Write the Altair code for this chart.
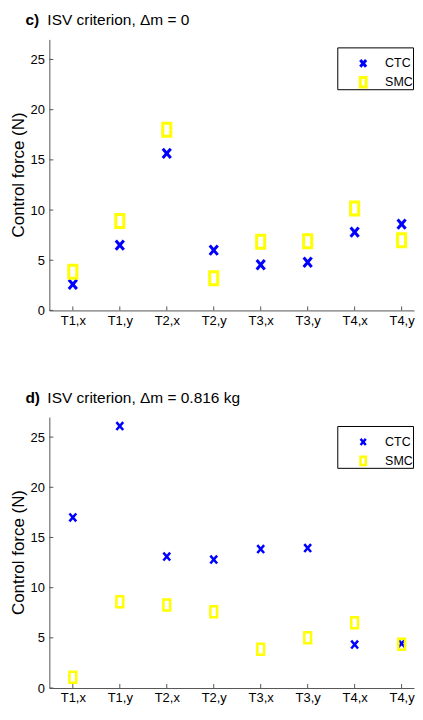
import altair as alt
import pandas as pd

categories = ["T1,x", "T1,y", "T2,x", "T2,y", "T3,x", "T3,y", "T4,x", "T4,y"]
series_names = ["CTC", "SMC"]
series_colors = ["#0000ff", "#ffff00"]
c_ctc = [2.6, 6.5, 15.65, 6.0, 4.55, 4.8, 7.8, 8.6]
c_smc = [3.85, 8.9, 18.0, 3.2, 6.85, 6.9, 10.15, 7.0]
d_ctc = [17.0, 26.1, 13.1, 12.8, 13.85, 13.95, 4.33, 4.43]
d_smc = [1.08, 8.6, 8.27, 7.6, 3.87, 5.0, 6.5, 4.36]
y_ticks = [0, 5, 10, 15, 20, 25]

FONT = "Liberation Sans, Arial, sans-serif"
W, H = 366, 272
X_PATH = "M-0.62,-0.72L0.62,0.72M0.62,-0.72L-0.62,0.72"
SQ_PATH = "M-0.62,-1L0.62,-1L0.62,1L-0.62,1Z"
shapes = [X_PATH, SQ_PATH]

label_expr = "[" + ",".join("'%s'" % c for c in categories) + "][datum.value - 1]"
positions = list(range(1, len(categories) + 1))


def make_panel(ctc, smc, tag, rest, msize, mstroke, lsize, lstroke, ltop):
    rows = []
    for name, vals in zip(series_names, [ctc, smc]):
        for i, v in enumerate(vals):
            rows.append({"pos": i + 1, "cat": categories[i], "series": name, "value": v})
    df = pd.DataFrame(rows)

    x_enc = alt.X("pos:Q", scale=alt.Scale(domain=[0.5, 8.264], nice=False, zero=False),
                  axis=alt.Axis(values=positions, labelExpr=label_expr, title=None,
                                labelPadding=4, labelFlush=False))
    y_enc = alt.Y("value:Q", scale=alt.Scale(domain=[0, 27], nice=False, zero=False),
                  axis=alt.Axis(values=y_ticks, title=None, labelPadding=5))
    points = alt.Chart(df).mark_point(filled=False, strokeWidth=mstroke, size=msize, opacity=1).encode(
        x=x_enc, y=y_enc,
        color=alt.Color("series:N", scale=alt.Scale(domain=series_names, range=series_colors), legend=None),
        shape=alt.Shape("series:N", scale=alt.Scale(domain=series_names, range=shapes), legend=None),
    )
    xt = alt.Chart(pd.DataFrame({"pos": positions})).mark_rule(color="#555", strokeWidth=1).encode(
        x=x_enc, y=alt.value(H), y2=alt.value(H - 4))
    yt = alt.Chart(pd.DataFrame({"value": y_ticks})).mark_rule(color="#555", strokeWidth=1).encode(
        y=y_enc, x=alt.value(0), x2=alt.value(4))
    one = pd.DataFrame({"t": [0]})
    t1 = alt.Chart(one).mark_text(font=FONT, fontSize=15.5, fontWeight="bold", align="left",
                                  baseline="middle", color="black").encode(
        x=alt.value(-24), y=alt.value(-19), text=alt.value(tag))
    t2 = alt.Chart(one).mark_text(font=FONT, fontSize=15.5, align="left",
                                  baseline="middle", color="black").encode(
        x=alt.value(-2), y=alt.value(-19), text=alt.value(rest))
    ytitle = alt.Chart(one).mark_text(font=FONT, fontSize=17, angle=270, align="center",
                                      baseline="middle", color="black").encode(
        x=alt.value(-30), y=alt.value(H / 2), text=alt.value("Control force (N)"))

    # legend box
    lx0 = 289.5
    box = alt.Chart(one).mark_rect(fill="white", stroke="black", strokeWidth=1).encode(
        x=alt.value(lx0), x2=alt.value(lx0 + 76), y=alt.value(ltop + 0.5), y2=alt.value(ltop + 42.5))
    leg_layers = [box]
    for k, name in enumerate(series_names):
        ly = ltop + 16 + 19 * k
        leg_layers.append(
            alt.Chart(pd.DataFrame({"series": [name]})).mark_point(
                shape=shapes[k], color=series_colors[k], filled=False, size=lsize,
                strokeWidth=lstroke, opacity=1).encode(x=alt.value(lx0 + 25.5), y=alt.value(ly)))
        leg_layers.append(
            alt.Chart(pd.DataFrame({"series": [name]})).mark_text(
                font=FONT, fontSize=12.5, align="left", baseline="middle", color="black").encode(
                x=alt.value(lx0 + 47.5), y=alt.value(ly), text="series:N"))
    return alt.layer(xt, yt, points, t1, t2, ytitle, *leg_layers).properties(width=W, height=H)


c = make_panel(c_ctc, c_smc, "c)", "ISV criterion, \u0394m = 0", 169, 3, 90, 3, 8)
d = make_panel(d_ctc, d_smc, "d)", "ISV criterion, \u0394m = 0.816 kg", 121, 2.5, 72, 2.5, 9)

chart = alt.vconcat(c, d, spacing=107, bounds="flush").properties(
    padding={"left": 2.5, "top": 4.25, "right": 0, "bottom": -1.5}
).configure_view(stroke=None).configure_axis(
    domainColor="#555", domainWidth=1, ticks=False, tickSize=0, grid=False,
    labelFont=FONT, labelFontSize=13, labelColor="black"
)

chart.save("out.html", embed_options={"renderer": "svg", "actions": False})
